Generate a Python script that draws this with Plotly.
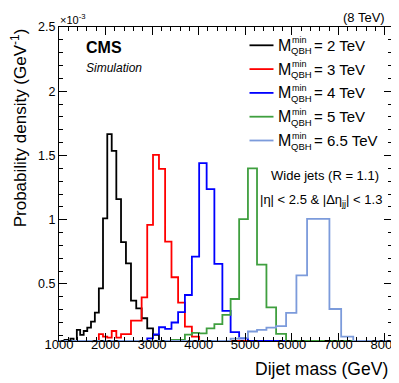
import numpy as np
import plotly.graph_objects as go

# dijet mass bin edges (GeV)
edges = [1000, 1058, 1118, 1181, 1246, 1313, 1383, 1455, 1530, 1607, 1687, 1770,
         1856, 1945, 2037, 2132, 2231, 2332, 2438, 2546, 2659, 2775, 2895, 3019,
         3147, 3279, 3416, 3558, 3704, 3854, 4010, 4171, 4337, 4509, 4686, 4869,
         5058, 5253, 5455, 5663, 5877, 6099, 6328, 6564, 6808, 7060, 7320, 7589,
         7866, 8152]

# probability density per bin, in units of 1e-3 / GeV
m2 = [0, 0, 0.065, 0, 0.075, 0, 0.142, 0.103, 0.134, 0.16, 0.207, 0.277, 0.466,
      1.01, 1.666, 1.536, 1.16, 0.825, 0.66, 0.37, 0.31, 0.233, 0.155, 0.103,
      0, 0, 0, 0, 0, 0, 0, 0, 0, 0, 0, 0, 0, 0, 0, 0, 0, 0, 0, 0, 0, 0, 0, 0, 0]
m3 = [0, 0, 0, 0, 0, 0, 0, 0, 0, 0, 0, 0, 0.11, 0.09, 0.082, 0.134, 0.082, 0.11,
      0.11, 0.215, 0.215, 0.396, 0.96, 1.505, 1.396, 0.83, 0.552, 0.355, 0.168,
      0.09, 0, 0, 0, 0, 0, 0, 0, 0, 0, 0, 0, 0, 0, 0, 0, 0, 0, 0, 0]
m4 = [0, 0, 0, 0, 0, 0, 0, 0, 0, 0, 0, 0, 0, 0, 0, 0, 0, 0, 0, 0, 0, 0, 0.077,
      0.108, 0.163, 0.15, 0.2, 0.28, 0.414, 0.713, 1.44, 1.238, 0.656, 0.29,
      0.125, 0.077, 0, 0, 0, 0, 0, 0, 0, 0, 0, 0, 0, 0, 0]
m5 = [0, 0, 0, 0, 0, 0, 0, 0, 0, 0, 0, 0, 0, 0, 0, 0, 0, 0, 0, 0, 0, 0, 0, 0, 0,
      0, 0.065, 0.065, 0.105, 0.12, 0.115, 0.155, 0.188, 0.26, 0.383, 1.004,
      1.40, 0.65, 0.318, 0.112, 0, 0, 0, 0, 0, 0, 0, 0, 0]
m65 = [0, 0, 0, 0, 0, 0, 0, 0, 0, 0, 0, 0, 0, 0, 0, 0, 0, 0, 0, 0, 0, 0, 0, 0, 0,
       0, 0, 0, 0, 0, 0, 0, 0, 0, 0.075, 0.08, 0.13, 0.142, 0.16, 0.172, 0.275,
       0.567, 1.006, 1.006, 0.305, 0.09, 0, 0, 0]

labels = ["2", "3", "4", "5", "6.5"]
colors = ["#000000", "#ff0000", "#0000ff", "#3f9f3f", "#7c9bdb"]

YMIN, YMAX = 0.056, 2.5
XMIN, XMAX = 1000, 8152
FONT = "Liberation Sans"
NARROW = "Liberation Sans Narrow, Liberation Sans"

# plot area in pixels (for placing the ROOT style text)
L, R, T, B = 51, 8, 19, 50
W, H = 399, 383
PW, PH = W - L - R, H - T - B


def px(x):
    return (x - L) / PW


def py(y):
    return (H - B - y) / PH


fig = go.Figure()
for vals, col in zip([m2, m3, m4, m5, m65], colors):
    v = np.maximum(np.array(vals, dtype=float), YMIN)
    fig.add_trace(go.Scatter(
        x=edges, y=list(v) + [v[-1]],
        mode="lines", line=dict(color=col, width=1.8, shape="hv"),
        showlegend=False, hoverinfo="skip"))

ann = []
shapes = []
# legend drawn by hand, ROOT style
for i, (lab, col) in enumerate(zip(labels, colors)):
    yl = 37.3 + i * 23.8
    shapes.append(dict(type="line", xref="paper", yref="paper",
                       x0=px(245.5), x1=px(270), y0=py(yl), y1=py(yl),
                       line=dict(color=col, width=1.8)))
    ann.append(dict(text="M", x=px(272.5), y=py(yl), xanchor="left",
                    yanchor="middle", font=dict(size=16)))
    ann.append(dict(text="min", x=px(286.5), y=py(yl - 5), xanchor="left",
                    yanchor="middle", font=dict(size=9)))
    ann.append(dict(text="QBH", x=px(286), y=py(yl + 5.5), xanchor="left",
                    yanchor="middle", font=dict(size=9.5)))
    ann.append(dict(text="= " + lab + " TeV", x=px(309), y=py(yl),
                    xanchor="left", yanchor="middle", font=dict(size=15)))

ann += [
    dict(text="<b>CMS</b>", x=px(77), y=py(39), xanchor="left",
         yanchor="middle", font=dict(size=16)),
    dict(text="<i>Simulation</i>", x=px(77), y=py(59.5), xanchor="left",
         yanchor="middle", font=dict(size=12)),
    dict(text="(8 TeV)", x=px(386), y=py(9), xanchor="right",
         yanchor="middle", font=dict(size=13)),
    dict(text="×10<sup>-3</sup>", x=px(50), y=py(19.5), xanchor="left",
         yanchor="bottom", font=dict(size=11)),
    dict(text="Wide jets (R = 1.1)", x=px(322.5), y=py(167),
         xanchor="center", yanchor="middle", font=dict(size=13)),
    dict(text="|η| < 2.5 & |Δη<sub>jj</sub>| < 1.3", x=px(318), y=py(192),
         xanchor="center", yanchor="middle", font=dict(size=13)),
    dict(text="Dijet mass (GeV)", x=px(389), y=py(361), xanchor="right",
         yanchor="middle", font=dict(size=17.5)),
    dict(text="Probability density (GeV<sup>-1</sup>)", x=px(11), y=py(18),
         xanchor="center", yanchor="top", textangle=-90, font=dict(size=17)),
]
for a in ann:
    a.update(xref="paper", yref="paper", showarrow=False)
    a["font"].update(family=FONT, color="black")

fig.update_layout(
    width=W, height=H,
    margin=dict(l=L, r=R, t=T, b=B),
    paper_bgcolor="white", plot_bgcolor="white",
    font=dict(family=FONT, color="black"),
    annotations=ann, shapes=shapes,
    xaxis=dict(range=[XMIN, XMAX], tickvals=list(range(1000, 9000, 1000)),
               ticks="inside", ticklen=8, tickcolor="black",
               minor=dict(ticks="inside", ticklen=4, dtick=200, tick0=0,
                          tickcolor="black"),
               showline=True, linecolor="black", linewidth=1, mirror="allticks",
               showgrid=False, zeroline=False, ticklabelstandoff=-9,
               tickfont=dict(size=13, family=NARROW)),
    yaxis=dict(range=[YMIN, YMAX], tickvals=[0.5, 1, 1.5, 2, 2.5],
               ticktext=["0.5", "1", "1.5", "2", "2.5"],
               ticks="inside", ticklen=8, tickcolor="black",
               minor=dict(ticks="inside", ticklen=4, dtick=0.1, tick0=0,
                          tickcolor="black"),
               showline=True, linecolor="black", linewidth=1, mirror="allticks",
               showgrid=False, zeroline=False, tickfont=dict(size=12.5)),
)

fig.write_html("out.html")
